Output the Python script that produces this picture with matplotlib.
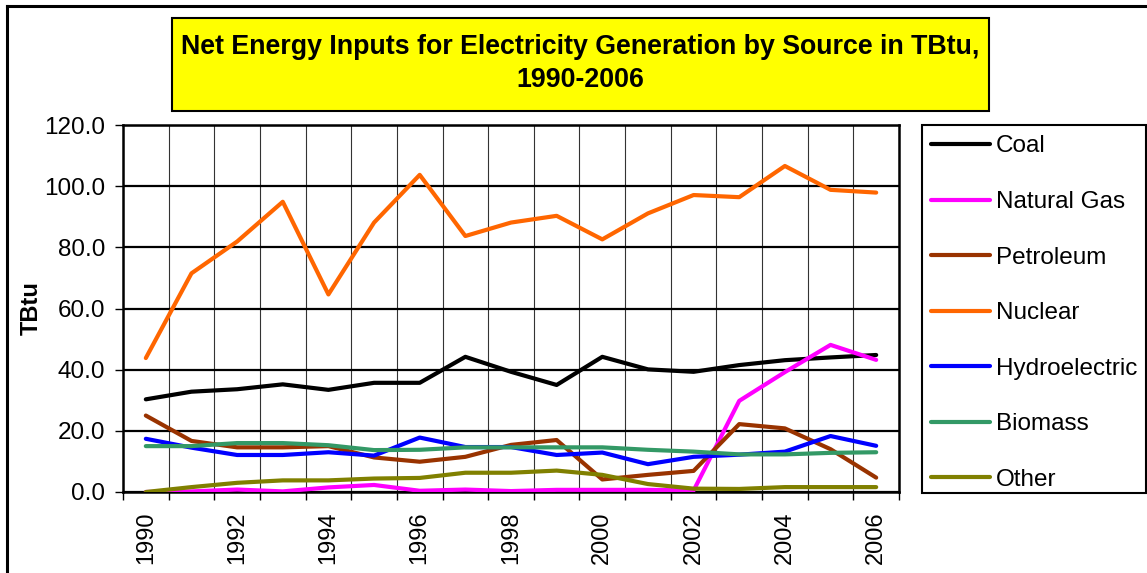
import matplotlib
matplotlib.use('Agg')
import matplotlib.pyplot as plt
from matplotlib.patches import Rectangle
from matplotlib.lines import Line2D
import numpy as np

plt.rcParams['font.family'] = ['Liberation Sans', 'DejaVu Sans']

years = list(range(1990, 2007))

coal = [30.3, 32.8, 33.6, 35.2, 33.4, 35.7, 35.7, 44.2, 39.3, 35.0, 44.2, 40.1, 39.3, 41.5, 43.1, 44.0, 44.8]
natural_gas = [0.0, 0.2, 0.8, 0.2, 1.5, 2.3, 0.4, 0.8, 0.3, 0.7, 0.7, 0.7, 0.5, 29.8, 39.2, 48.1, 43.2]
petroleum = [25.0, 16.7, 14.6, 14.6, 15.0, 11.3, 9.9, 11.5, 15.4, 17.0, 4.1, 5.6, 6.9, 22.2, 20.8, 14.0, 4.7]
nuclear = [43.8, 71.5, 81.9, 94.9, 64.6, 88.1, 103.7, 83.7, 88.1, 90.3, 82.6, 91.1, 97.1, 96.4, 106.6, 98.8, 97.9]
hydro = [17.4, 14.5, 12.1, 12.1, 13.0, 11.9, 17.8, 14.7, 14.7, 12.1, 12.9, 9.1, 11.5, 12.2, 13.2, 18.3, 15.1]
biomass = [15.0, 15.0, 16.0, 16.0, 15.3, 13.7, 13.8, 14.6, 14.6, 14.6, 14.6, 13.8, 13.2, 12.3, 12.3, 12.8, 13.0]
other = [0.0, 1.6, 3.0, 3.8, 3.8, 4.4, 4.6, 6.3, 6.3, 7.0, 5.6, 2.6, 1.1, 1.0, 1.6, 1.6, 1.6]

series = [
    ('Coal', coal, '#000000'),
    ('Natural Gas', natural_gas, '#FF00FF'),
    ('Petroleum', petroleum, '#993300'),
    ('Nuclear', nuclear, '#FF6600'),
    ('Hydroelectric', hydro, '#0000FF'),
    ('Biomass', biomass, '#339966'),
    ('Other', other, '#808000'),
]

W, H = 1147, 573
fig = plt.figure(figsize=(W / 100, H / 100), dpi=100)

# axes placed in pixel terms
left, right, top, bottom = 123, 899, 125, 492
ax = fig.add_axes([left / W, 1 - bottom / H, (right - left) / W, (bottom - top) / H])

handles = []
for name, vals, col in series:
    h, = ax.plot(years, vals, color=col, lw=3, label=name, solid_capstyle='round', zorder=3)
    handles.append(h)

ax.set_xlim(1989.5, 2006.5)
ax.set_ylim(0, 120)
ax.set_yticks(np.arange(0, 121, 20))
ax.set_yticklabels([f'{v:.1f}' for v in np.arange(0, 121, 20)], fontsize=17.5)
ax.set_xticks(years[::2])
ax.set_xticklabels([str(y) for y in years[::2]], rotation=90, fontsize=17)
ax.set_xticks(np.arange(1989.5, 2007, 1), minor=True)
ax.tick_params(axis='x', which='major', length=0, pad=14)
ax.tick_params(axis='x', which='minor', length=6, width=1, direction='out')
ax.tick_params(axis='y', length=6, width=1, direction='out', pad=7)

ax.grid(axis='y', which='major', color='black', lw=1.6, zorder=1)
ax.grid(axis='x', which='minor', color='#333333', lw=0.8, zorder=1)
for s in ax.spines.values():
    s.set_linewidth(1.8)
    s.set_color('black')

ax.set_ylabel('TBtu', fontsize=17, fontweight='bold')
ax.yaxis.set_label_coords(-0.103, 0.5)

# outer chart border
fig.add_artist(Line2D([7 / W, 7 / W], [0, 1 - 6 / H], color='black', lw=2.2))
fig.add_artist(Line2D([7 / W, 1], [1 - 6 / H, 1 - 6 / H], color='black', lw=2.2))

# title box
tx0, tx1, ty0, ty1 = 172, 989, 18, 111
fig.add_artist(Rectangle((tx0 / W, 1 - ty1 / H), (tx1 - tx0) / W, (ty1 - ty0) / H,
                         facecolor='#FFFF00', edgecolor='black', lw=1.5))
fig.text((tx0 + tx1) / 2 / W, 1 - 63 / H,
         'Net Energy Inputs for Electricity Generation by Source in TBtu,\n1990-2006',
         ha='center', va='center', fontsize=19.3, fontweight='bold', linespacing=1.35)

# legend box
lx0, lx1, ly0, ly1 = 922, 1146, 125, 493
fig.add_artist(Rectangle((lx0 / W, 1 - ly1 / H), (lx1 - lx0) / W, (ly1 - ly0) / H,
                         facecolor='white', edgecolor='black', lw=1.5))
leg = fig.legend(handles=handles, loc='upper left', bbox_to_anchor=(912 / W, 1 - 116 / H),
                 frameon=False, fontsize=17.5, handlelength=2.4, handletextpad=0.25,
                 labelspacing=1.38, borderpad=0.3)

fig.savefig('out.png', dpi=100)
